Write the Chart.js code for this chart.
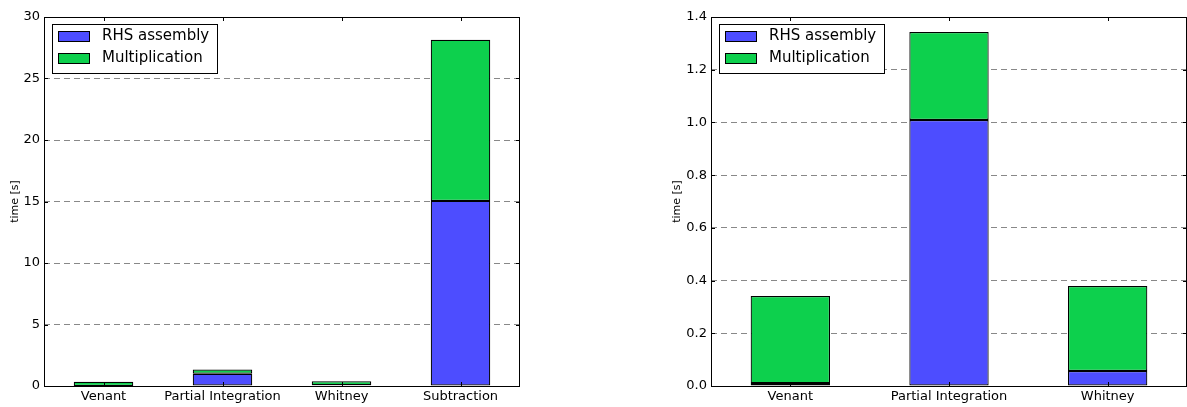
<!DOCTYPE html>
<html>
<head>
<meta charset="utf-8">
<script src="https://cdn.jsdelivr.net/npm/chart.js@4"></script>
<style>
  body { margin: 0; background: #fff; }
  .panel { position: absolute; top: 0; }
</style>
</head>
<body>
<div class="panel" style="left:0px"><canvas id="left" width="540" height="407"></canvas></div>
<div class="panel" style="left:666px"><canvas id="right" width="521" height="407"></canvas></div>
<script>
// data
const categoriesLeft = ["Venant", "Partial Integration", "Whitney", "Subtraction"];
const rhsLeft = [0.01, 1.0, 0.055, 15.05];
const multLeft = [0.33, 0.34, 0.325, 13.1];

const categoriesRight = ["Venant", "Partial Integration", "Whitney"];
const rhsRight = [0.011, 1.009, 0.057];
const multRight = [0.33, 0.334, 0.322];

const BLUE = "#4d4dff";
const GREEN = "#0dd04d";

// matplotlib-like frame, inward ticks and legend box inside the axes
const framePlugin = {
    id: "frame",
    afterDraw(chart) {
        const ctx = chart.ctx;
        const a = chart.chartArea;
        const y = chart.scales.y;
        const x = chart.scales.x;
        ctx.save();
        ctx.strokeStyle = "#000";
        ctx.lineWidth = 1;
        ctx.beginPath();
        y.ticks.forEach((t) => {
            const py = Math.round(y.getPixelForValue(t.value)) + 0.5;
            ctx.moveTo(a.left, py); ctx.lineTo(a.left + 4, py);
            ctx.moveTo(a.right, py); ctx.lineTo(a.right - 4, py);
        });
        x.ticks.forEach((t, i) => {
            const px = Math.round(x.getPixelForTick(i)) + 0.5;
            ctx.moveTo(px, a.top); ctx.lineTo(px, a.top + 4);
            ctx.moveTo(px, a.bottom); ctx.lineTo(px, a.bottom - 4);
        });
        ctx.stroke();
        ctx.strokeRect(Math.round(a.left) + 0.5, Math.round(a.top) + 0.5,
            Math.round(a.right - a.left) - 1, Math.round(a.bottom - a.top));

        // legend
        const lx = a.left + 8, ly = a.top + 7;
        ctx.fillStyle = "#fff";
        ctx.fillRect(lx, ly, 165, 49);
        ctx.strokeRect(lx + 0.5, ly + 0.5, 165, 49);
        ctx.font = "15px 'DejaVu Sans'";
        ctx.textBaseline = "middle";
        chart.data.datasets.forEach((ds, i) => {
            const ry = ly + 7 + i * 22;
            ctx.fillStyle = ds.backgroundColor;
            ctx.fillRect(lx + 6, ry, 31, 10);
            ctx.strokeRect(lx + 6.5, ry + 0.5, 31, 10);
            ctx.fillStyle = "#000";
            ctx.fillText(ds.label, lx + 50, ry + 5);
        });
        ctx.restore();
    }
};

function makeChart(id, labels, rhs, mult, yMax, yStep, yWidth, titlePad, decimals, padRight) {
    return new Chart(document.getElementById(id), {
        type: "bar",
        data: {
            labels: labels,
            datasets: [
                { label: "RHS assembly", data: rhs, backgroundColor: BLUE },
                { label: "Multiplication", data: mult, backgroundColor: GREEN }
            ]
        },
        options: {
            responsive: false,
            animation: false,
            events: [],
            layout: { padding: { top: 17, right: padRight, left: 0, bottom: 0 } },
            datasets: {
                bar: {
                    barPercentage: 0.5,
                    categoryPercentage: 1,
                    borderColor: "#000",
                    borderWidth: 1.2,
                    borderSkipped: false
                }
            },
            plugins: { legend: { display: false }, tooltip: { enabled: false } },
            scales: {
                x: {
                    stacked: true,
                    grid: { display: false, drawTicks: false },
                    border: { display: false },
                    ticks: {
                        color: "#000",
                        padding: 3,
                        maxRotation: 0,
                        minRotation: 0,
                        autoSkip: false,
                        font: { family: "DejaVu Sans", size: 13 }
                    },
                    afterFit: (s) => { s.height = 21; }
                },
                y: {
                    stacked: true,
                    min: 0,
                    max: yMax,
                    grid: {
                        drawTicks: false,
                        color: (c) => (c.index === 0 || c.tick.value >= yMax - 1e-9) ? "rgba(0,0,0,0)" : "#888",
                        lineWidth: 1
                    },
                    border: { display: false, dash: [6, 4] },
                    ticks: {
                        stepSize: yStep,
                        color: "#000",
                        padding: 4,
                        font: { family: "DejaVu Sans", size: 13 },
                        callback: (v) => v.toFixed(decimals)
                    },
                    title: {
                        display: true,
                        text: "time [s]",
                        color: "#000",
                        font: { family: "DejaVu Sans", size: 11 },
                        padding: { top: titlePad, bottom: 0 }
                    },
                    afterFit: (s) => { s.width = yWidth; }
                }
            }
        },
        plugins: [framePlugin]
    });
}

makeChart("left", categoriesLeft, rhsLeft, multLeft, 30, 5, 44, 9, 0, 20);
makeChart("right", categoriesRight, rhsRight, multRight, 1.4, 0.2, 45, 5, 1, 0);
</script>
</body>
</html>
